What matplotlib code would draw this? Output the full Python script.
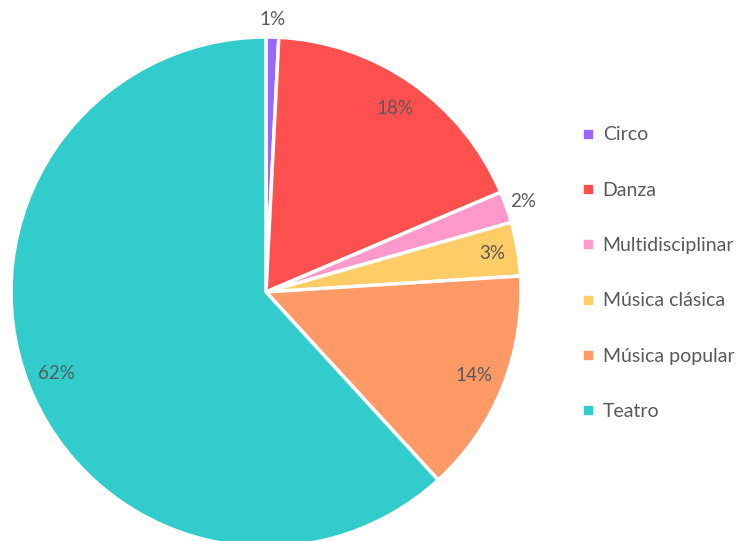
import numpy as np
import matplotlib.pyplot as plt
from matplotlib.lines import Line2D

plt.rcParams['font.family'] = ['Lato', 'DejaVu Sans']

categories = ['Circo', 'Danza', 'Multidisciplinar', 'Música clásica', 'Música popular', 'Teatro']
shares = [0.8, 17.8, 2.0, 3.4, 14.2, 61.8]
colors = ['#9966ff', '#ff5050', '#ff99cc', '#ffcc66', '#ff9966', '#33cccc']
text_color = '#595959'

fig = plt.figure(figsize=(7.36, 5.41), dpi=100)
# pie axes: centre ~ (266, 292) px, radius ~ 255 px
W, H = 736, 541
cx, cy, r = 266, 292, 255
ax = fig.add_axes([(cx - r) / W, (H - cy - r) / H, 2 * r / W, 2 * r / H])

wedges, texts, autotexts = ax.pie(
    shares,
    colors=colors,
    startangle=90,
    counterclock=False,
    autopct=lambda p: f"{p:.0f}%",
    pctdistance=0.88,
    wedgeprops={'linewidth': 2.5, 'edgecolor': 'white', 'clip_on': False},
    textprops={'fontsize': 13.5, 'color': text_color},
)
ax.set_xlim(-1, 1)
ax.set_ylim(-1, 1)
ax.set_aspect('equal')

# small slices: label outside the pie
for w, t, val in zip(wedges, autotexts, shares):
    ang = np.deg2rad((w.theta1 + w.theta2) / 2)
    if val < 2.5:
        t.set_position((1.07 * np.cos(ang), 1.07 * np.sin(ang)))
    elif val < 5:
        t.set_position((0.9 * np.cos(ang), 0.9 * np.sin(ang)))

handles = [Line2D([], [], marker='s', linestyle='', markersize=6,
                  markerfacecolor=c, markeredgecolor=c) for c in colors]
fig.legend(handles, categories, loc='center left', bbox_to_anchor=(0.766, 0.495),
           frameon=False, fontsize=14, labelcolor=text_color,
           handlelength=0.7, handletextpad=0.4, labelspacing=1.97)

fig.savefig('out.png', dpi=100)
